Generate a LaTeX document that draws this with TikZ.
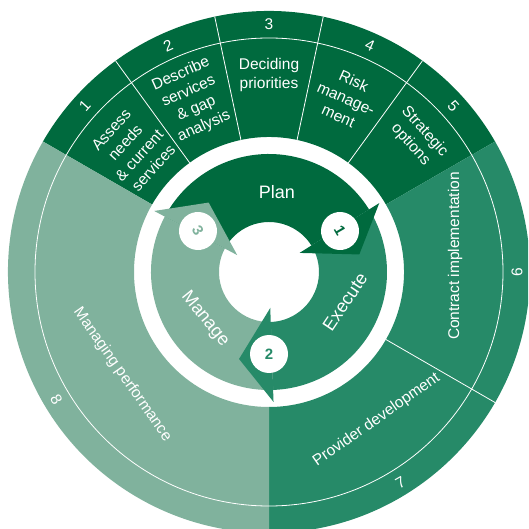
\documentclass[tikz,border=0pt]{standalone}
\usepackage{fontspec}
\setmainfont{Liberation Sans}
\definecolor{plangreen}{RGB}{0,106,62}
\definecolor{execgreen}{RGB}{38,138,104}
\definecolor{managegreen}{RGB}{128,178,157}
\begin{document}
\begin{tikzpicture}[x=1pt, y=1pt,
    txt/.style={text=white, inner sep=0pt, align=center,
      font=\fontsize{15.5}{19}\selectfont},
    stage/.style={text=white, inner sep=0pt, font=\fontsize{18}{20}\selectfont},
    badge/.style={circle, fill=white, minimum size=38pt, inner sep=0pt,
      font=\bfseries\fontsize{15}{16}\selectfont},
    divider/.style={draw=white, line width=0.8pt}]
  \useasboundingbox (-269,-257) rectangle (259,272);
  \clip (-269,-257) rectangle (259,272);

  % outer ring
  \fill[plangreen] (30:261pt) arc[start angle=30, end angle=150, radius=261pt]
    -- (150:135pt) arc[start angle=150, end angle=30, radius=135pt] -- cycle;
  \fill[execgreen] (-90:261pt) arc[start angle=-90, end angle=30, radius=261pt]
    -- (30:135pt) arc[start angle=30, end angle=-90, radius=135pt] -- cycle;
  \fill[managegreen] (150:261pt) arc[start angle=150, end angle=270, radius=261pt]
    -- (270:135pt) arc[start angle=270, end angle=150, radius=135pt] -- cycle;
  \foreach \a in {54,78,102,126,-30} \draw[divider] (\a:135pt) -- (\a:261pt);
  \draw[divider] (0,0) circle[radius=234pt];

  % cycle arrows
  \fill[plangreen] (152:50pt) arc[start angle=152, end angle=32, radius=50pt]
    -- (32:118pt) arc[start angle=32, end angle=152, radius=118pt] -- cycle;
  \fill[execgreen] (32:50pt) arc[start angle=32, end angle=-88, radius=50pt]
    -- (-88:118pt) arc[start angle=-88, end angle=32, radius=118pt] -- cycle;
  \fill[managegreen] (-88:50pt) arc[start angle=-88, end angle=-208, radius=50pt]
    -- (-208:118pt) arc[start angle=-208, end angle=-88, radius=118pt] -- cycle;
  \fill[plangreen] (32:130pt) -- (11:92pt) -- (32:36pt) -- cycle;
  \fill[execgreen] (-88:130pt) -- (-109:92pt) -- (-88:36pt) -- cycle;
  \fill[managegreen] (152:130pt) -- (131:92pt) -- (152:36pt) -- cycle;

  \node[badge, text=plangreen, rotate=-60] (b1) at (30:82pt) {1};
  \node[badge, text=execgreen] (b2) at (-90:82pt) {2};
  \node[badge, text=managegreen, rotate=-60] (b3) at (150:82pt) {3};

  \node[stage] (plan) at (8,80) {Plan};
  \node[stage, rotate=56] (execute) at (76,-30) {Execute};
  \node[stage, rotate=-51] (manage) at (-64,-47) {Manage};

  % step labels
  \begin{scope}[every node/.style={txt}]
    \node[rotate=48] (assess) at (138:184pt) {Assess\\needs\\\& current\\services};
    \node[rotate=24] (describe) at (114:188pt) {Describe\\services\\\& gap\\analysis};
    \node (deciding) at (90:197pt) {Deciding\\priorities};
    \node[rotate=-24] (risk) at (66:190pt) {Risk\\manage-\\ment};
    \node[rotate=-48] (strategic) at (42:200pt) {Strategic\\options};
    \node[rotate=90] (contract) at (186,16) {Contract implementation};
    \node[rotate=35] (provider) at (-54:183pt) {Provider development};
    \node[rotate=-55] (performance) at (215:179pt) {Managing performance};
  \end{scope}

  % step numbers
  \begin{scope}[every node/.style={txt}]
    \node[rotate=48] (n1) at (138:248pt) {1}; \node[rotate=24] (n2) at
    (114:248pt) {2}; \node (n3) at (90:248pt) {3}; \node[rotate=-24] (n4)
    at (66:248pt) {4}; \node[rotate=-48] (n5) at (42:248pt) {5};
    \node[rotate=90] (n6) at (0:248pt) {6}; \node[rotate=30] (n7) at
    (-58:248pt) {7}; \node[rotate=-60] (n8) at (211:248pt) {8};
  \end{scope}
\end{tikzpicture}
\end{document}
